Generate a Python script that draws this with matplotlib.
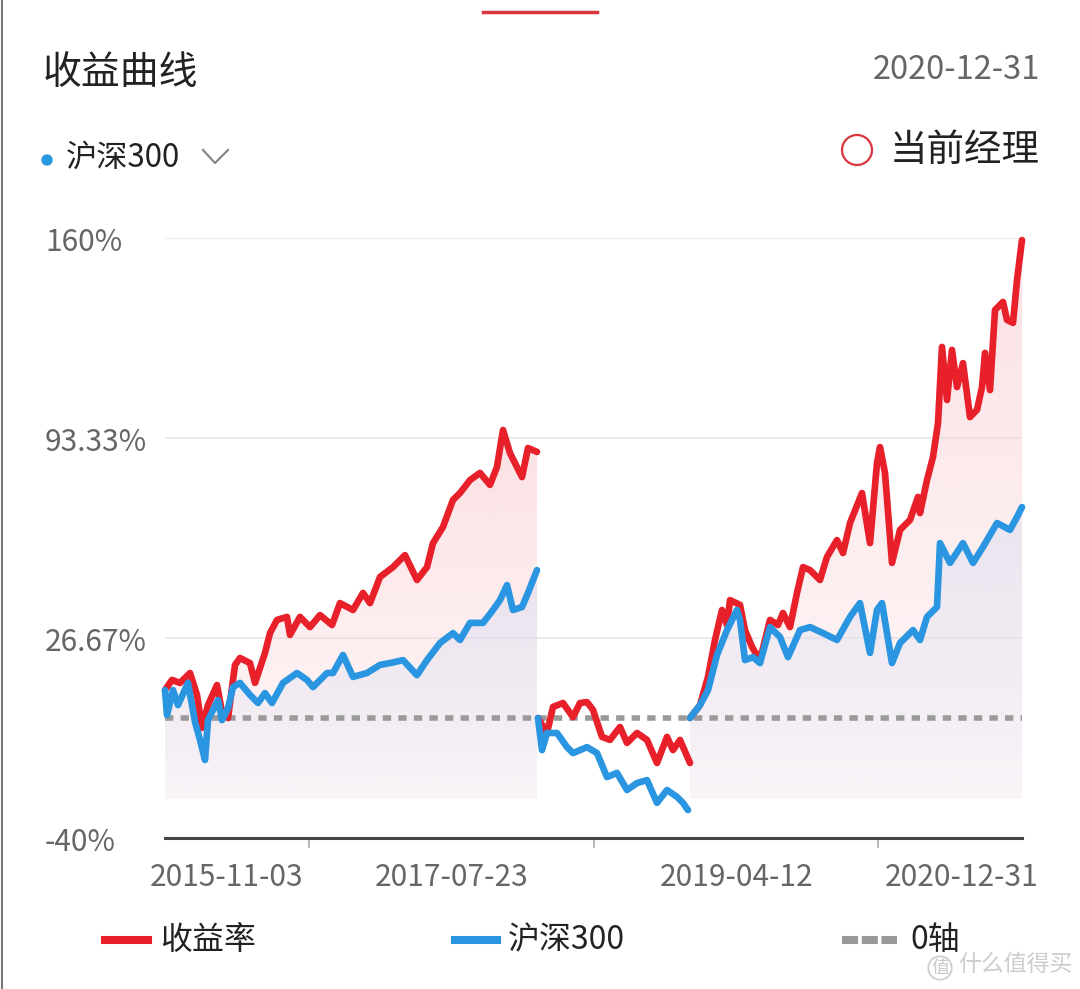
import matplotlib
matplotlib.use('Agg')
import numpy as np
import matplotlib.pyplot as plt
from matplotlib.lines import Line2D
from matplotlib.patches import Ellipse
from matplotlib.colors import to_rgb
from matplotlib.transforms import blended_transform_factory

plt.rcParams['font.family'] = ['Noto Sans CJK SC', 'DejaVu Sans']

# ============================================
# Data: return curves (%) per manager period, index = sample position
# ============================================
RED_T1 = [0, 7, 15, 25, 32, 37, 43, 52, 57, 63, 70, 75, 85, 90, 100, 105, 112, 122, 125, 135,
          145, 155, 167, 175, 188, 198, 205, 215, 228, 240, 252, 262, 268, 278, 288, 295, 305,
          315, 325, 332, 338, 345, 357, 363, 372]
RED_V1 = [9.3, 12.7, 11.7, 15, 7.7, -3.3, 4.3, 11, 2, 0, 17.7, 20, 18.3, 11.7, 21.7, 28.3, 32.7,
          33.7, 27.7, 33.7, 30.3, 34.3, 31, 38.3, 36, 41.7, 38.3, 47, 50.3, 54.3, 46, 50.3, 58.3,
          63.7, 72.7, 75, 79.3, 81.7, 77.7, 83.7, 96, 88.3, 80.3, 90, 88.7]
BLUE_T1 = [0, 2, 8, 13, 23, 30, 35, 40, 43, 53, 57, 63, 68, 75, 85, 93, 100, 107, 118, 132, 142,
           148, 162, 168, 178, 188, 202, 215, 225, 238, 252, 262, 275, 288, 295, 305, 318, 328,
           335, 342, 348, 357, 363, 372]
BLUE_V1 = [9.3, 1, 9.3, 4.3, 11.7, -1.3, -7.3, -14, -0.7, 6, -0.7, 3.3, 10.3, 11.7, 7.7, 5, 8.3,
           5, 11.7, 15, 12.7, 10.3, 15, 15, 21, 13.7, 15, 17.7, 18.3, 19.3, 14.3, 19.3, 25, 28.3,
           26, 31.7, 31.7, 36, 39.3, 44.3, 36, 37, 41.7, 49.3]

RED_T2 = [373, 382, 388, 398, 408, 415, 422, 428, 437, 445, 455, 462, 472, 482, 492, 502, 508,
          515, 525]
RED_V2 = [0, -5, 3.7, 5, 0.3, 5, 5.3, 2.7, -6.3, -7.3, -3, -8.3, -5, -7.3, -15, -6.3, -10.7,
          -7.3, -15]
BLUE_T2 = [373, 377, 382, 392, 402, 408, 422, 432, 442, 452, 462, 472, 482, 492, 502, 512, 518,
           523]
BLUE_V2 = [0, -10.7, -5, -5, -9.7, -11.7, -9.7, -11.7, -19.7, -18.3, -24, -21.7, -20.7, -28.3,
           -24, -26.3, -28.3, -30.7]

RED_T3 = [525, 535, 543, 550, 557, 562, 565, 575, 580, 587, 595, 600, 605, 613, 618, 625, 632,
          638, 645, 655, 662, 672, 678, 685, 697, 705, 712, 715, 720, 727, 735, 745, 753, 755,
          762, 768, 773, 777, 782, 787, 792, 798, 805, 812, 817, 820, 825, 830, 838, 842, 848,
          852, 857]
RED_V3 = [0, 4.3, 13.7, 26, 36, 31, 39.3, 37.7, 29.3, 23.7, 19.3, 26, 32.7, 31, 35, 30.3, 41.7,
          50.3, 49.3, 46, 53.7, 59.3, 55, 65, 75, 58.3, 85, 90.3, 81.7, 51.7, 62.7, 66, 73.7,
          68.3, 79.3, 87, 98.3, 123.7, 106, 122.7, 110.3, 118.3, 100.3, 102.7, 110.3, 121.7,
          109.3, 136, 138.7, 132.7, 131.7, 146, 159.3]
BLUE_T3 = [525, 535, 543, 552, 562, 572, 575, 580, 588, 595, 605, 615, 623, 635, 645, 658, 672,
           685, 695, 705, 712, 717, 727, 735, 748, 755, 762, 772, 775, 785, 798, 808, 818, 832,
           845, 852, 857]
BLUE_V3 = [0, 4.3, 9.3, 21, 29.3, 36, 32.7, 19.3, 20.3, 18.3, 30.3, 27, 20.3, 29.3, 30.3, 28.3,
           26, 33.7, 38.3, 21.7, 36, 38.3, 18.3, 25, 29.3, 26, 33.7, 37, 58.3, 51.7, 58.3, 51.7,
           57, 65, 62.7, 67, 70.3]

Y_TICKS = [-40, 26.67, 93.33, 160]
Y_LABELS = ['-40%', '26.67%', '93.33%', '160%']
X_TICKS = [144, 429, 713]
X_LABEL_POS = [62, 287, 572, 797]
X_LABELS = ['2015-11-03', '2017-07-23', '2019-04-12', '2020-12-31']

RED = '#e8202a'
BLUE = '#2a95e0'
W, H = 1080, 989
FILL_BASE = -27


def fx(px):
    return px / W


def fy(py):
    return 1 - py / H


def gradient_fill(ax, t, v, color, a_top, a_bot, z):
    '''Vertical gradient fill between a curve and FILL_BASE.'''
    poly = ax.fill_between(t, v, FILL_BASE, color='none', lw=0)
    grad = np.zeros((200, 1, 4))
    grad[..., :3] = to_rgb(color)
    grad[..., 3] = np.linspace(a_top, a_bot, 200)[:, None]
    im = ax.imshow(grad, aspect='auto', origin='upper', interpolation='bilinear',
                   extent=(t[0], t[-1], FILL_BASE, max(v)), zorder=z)
    im.set_clip_path(poly.get_paths()[0], transform=ax.transData)


fig = plt.figure(figsize=(10.8, 9.89), dpi=100)
fig.patch.set_facecolor('white')
ax = fig.add_axes([fx(165), fy(838), (1022 - 165) / W, (838 - 238) / H])

# gridlines and zero axis
for v in Y_TICKS[1:]:
    ax.axhline(v, color='#ececec', lw=1.5, zorder=0)
ax.axhline(0, color='#9a9a9a', lw=4, dashes=(1.5, 1.3), zorder=2)

# fills (only 1st and 3rd periods)
for t, v in [(RED_T1, RED_V1), (RED_T3, RED_V3)]:
    gradient_fill(ax, t, v, '#f8c8cd', 0.55, 0.12, 0.5)
for t, v in [(BLUE_T1, BLUE_V1), (BLUE_T3, BLUE_V3)]:
    gradient_fill(ax, t, v, '#dcdff3', 0.55, 0.15, 0.6)

for t, v in [(RED_T1, RED_V1), (RED_T2, RED_V2), (RED_T3, RED_V3)]:
    ax.plot(t, v, color=RED, lw=4.8, solid_joinstyle='round', solid_capstyle='round',
            clip_on=False, zorder=3)
for t, v in [(BLUE_T1, BLUE_V1), (BLUE_T2, BLUE_V2), (BLUE_T3, BLUE_V3)]:
    ax.plot(t, v, color=BLUE, lw=4.8, solid_joinstyle='round', solid_capstyle='round',
            clip_on=False, zorder=4)

ax.set_xlim(0, 857)
ax.set_ylim(-40, 160)
for s in ['top', 'right', 'left']:
    ax.spines[s].set_visible(False)
ax.spines['bottom'].set_color('#444444')
ax.spines['bottom'].set_linewidth(2.2)
ax.set_yticks([])
ax.set_xticks(X_TICKS)
ax.set_xticklabels([])
ax.tick_params(axis='x', length=7, width=1.5, color='#bbbbbb')
ax.set_facecolor('none')

# y labels, left aligned at page margin
ytrans = blended_transform_factory(fig.transFigure, ax.transData)
for v, lab in zip(Y_TICKS, Y_LABELS):
    ax.text(fx(45), v - 1.6, lab, transform=ytrans, ha='left', va='center',
            fontsize=21.5, color='#666666')

xtrans = blended_transform_factory(ax.transData, fig.transFigure)
for p, lab in zip(X_LABEL_POS, X_LABELS):
    ax.text(p, fy(878), lab, transform=xtrans, ha='center', va='center',
            fontsize=21.5, color='#666666')

# header
fig.add_artist(Line2D([fx(483), fx(597)], [fy(12), fy(12)], color='#d9363e', lw=2.5))
fig.text(fx(43), fy(73), '收益曲线', fontsize=28, color='#222222', ha='left', va='center')
fig.text(fx(1040), fy(70), '2020-12-31', fontsize=23.5, color='#666666', ha='right', va='center')
fig.add_artist(Ellipse((fx(47), fy(160)), 10 / W, 10 / H, color=BLUE))
fig.text(fx(66), fy(158), '沪深300', fontsize=22.5, color='#222222', ha='left', va='center')
fig.add_artist(Line2D([fx(203), fx(215), fx(228)], [fy(150), fy(163), fy(150)],
                      color='#888888', lw=1.6))
fig.add_artist(Ellipse((fx(857), fy(150)), 30 / W, 30 / H, fill=False,
                       edgecolor='#d9363e', lw=1.6))
fig.text(fx(1040), fy(150), '当前经理', fontsize=27, color='#222222', ha='right', va='center')

# legend
fig.add_artist(Line2D([fx(105), fx(148)], [fy(940), fy(940)], color=RED, lw=5.8))
fig.text(fx(160), fy(940), '收益率', fontsize=23, color='#222222', ha='left', va='center')
fig.add_artist(Line2D([fx(455), fx(497)], [fy(940), fy(940)], color=BLUE, lw=5.8))
fig.text(fx(508), fy(940), '沪深300', fontsize=23, color='#222222', ha='left', va='center')
fig.add_artist(Line2D([fx(842), fx(897)], [fy(940), fy(940)], color='#999999', lw=5.8,
                      dashes=(2, 0.45)))
fig.text(fx(910), fy(940), '0轴', fontsize=23, color='#222222', ha='left', va='center')

# watermark
fig.text(fx(940), fy(968), '值', fontsize=13, color='#cccccc', ha='center', va='center',
         bbox=dict(boxstyle='circle,pad=0.15', fc='none', ec='#cccccc', lw=1.2))
fig.text(fx(958), fy(964), '什么值得买', fontsize=16.5, color='#cccccc', ha='left', va='center')

# left screen edge
fig.add_artist(Line2D([fx(1.5), fx(1.5)], [0, 1], color='#777777', lw=1.5))

fig.savefig('out.png', dpi=100, facecolor='white')
